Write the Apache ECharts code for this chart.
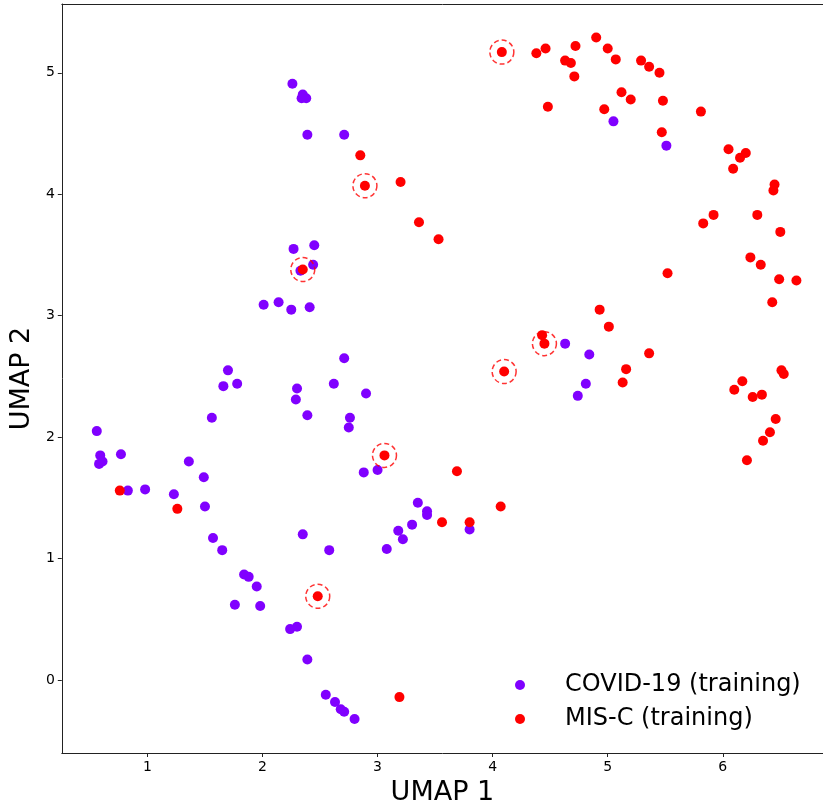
<!DOCTYPE html>
<html><head><meta charset="utf-8">
<script src="https://cdn.jsdelivr.net/npm/echarts@6/dist/echarts.min.js"></script>
<style>html,body{margin:0;padding:0;background:#fff}#c{width:823px;height:811px}</style>
</head><body><div id="c"></div>
<script>
const covidPoints = [
  [2.26,4.91],[2.35,4.82],[2.34,4.79],[2.38,4.79],[2.39,4.49],[2.71,4.49],
  [2.27,3.55],[2.45,3.58],[2.44,3.42],[2.33,3.37],
  [2.01,3.09],[2.14,3.11],[2.25,3.05],[2.41,3.07],
  [1.70,2.55],[1.66,2.42],[1.78,2.44],[1.56,2.16],
  [2.30,2.40],[2.29,2.31],[2.39,2.18],[2.62,2.44],[2.71,2.65],[2.90,2.36],[2.76,2.16],[2.75,2.08],
  [0.56,2.05],[0.59,1.85],[0.61,1.80],[0.58,1.78],[0.77,1.86],[0.83,1.56],[0.98,1.57],
  [1.36,1.80],[1.49,1.67],[1.23,1.53],[1.50,1.43],[1.57,1.17],[1.65,1.07],
  [1.84,0.87],[1.88,0.85],[1.95,0.77],[1.76,0.62],[1.98,0.61],
  [2.35,1.20],[2.58,1.07],[2.24,0.42],[2.30,0.44],[2.39,0.17],
  [2.55,-0.12],[2.63,-0.18],[2.68,-0.24],[2.71,-0.26],[2.80,-0.32],
  [2.88,1.71],[3.00,1.73],
  [3.08,1.08],[3.18,1.23],[3.22,1.16],[3.30,1.28],[3.35,1.46],[3.43,1.39],[3.43,1.36],[3.80,1.24],
  [4.63,2.77],[4.84,2.68],[4.81,2.44],[4.74,2.34],
  [5.05,4.60],[5.51,4.40]
];
const miscPoints = [
  [4.08,5.17],[4.38,5.16],[4.46,5.20],[4.72,5.22],[4.90,5.29],[5.00,5.20],[5.07,5.11],
  [4.63,5.10],[4.68,5.08],[4.71,4.97],[4.48,4.72],[5.29,5.10],[5.36,5.05],[5.45,5.00],
  [5.12,4.84],[5.20,4.78],[5.48,4.77],[4.97,4.70],[5.47,4.51],[5.81,4.68],
  [6.05,4.37],[6.15,4.30],[6.20,4.34],[6.09,4.21],[6.45,4.08],[6.44,4.03],
  [6.30,3.83],[5.92,3.83],[5.83,3.76],[6.50,3.69],[6.24,3.48],[6.33,3.42],
  [6.49,3.30],[6.64,3.29],[6.43,3.11],[5.52,3.35],
  [4.93,3.05],[5.01,2.91],[5.36,2.69],[5.16,2.56],[5.13,2.45],
  [6.51,2.55],[6.53,2.52],[6.17,2.46],[6.10,2.39],[6.26,2.33],[6.34,2.35],
  [6.46,2.15],[6.41,2.04],[6.35,1.97],[6.21,1.81],
  [2.85,4.32],[2.89,4.07],[3.20,4.10],[3.36,3.77],[3.53,3.63],[2.35,3.38],
  [4.43,2.84],[4.45,2.77],[4.10,2.54],[3.06,1.85],[3.69,1.72],
  [4.07,1.43],[3.56,1.30],[3.80,1.30],[3.19,-0.14],[2.48,0.69],
  [0.76,1.56],[1.26,1.41]
];
const highlighted = [[4.08,5.17],[2.89,4.07],[2.35,3.38],[4.45,2.77],[4.10,2.54],[3.06,1.85],[2.48,0.69]];
const xTicks = [1,2,3,4,5,6];
const yTicks = [0,1,2,3,4,5];
const seriesNames = ['COVID-19 (training)','MIS-C (training)'];

const chart = echarts.init(document.getElementById('c'), null, {renderer:'canvas'});
const font = 'DejaVu Sans';
const X_MIN = 0.256, X_MAX = 6.871;
chart.setOption({
  animation:false,
  backgroundColor:'#fff',
  grid:{left:61, top:4, right:0, bottom:57.5, show:false, containLabel:false},
  xAxis:[{type:'value', min:X_MIN, max:X_MAX, position:'bottom',
    name:'UMAP 1', nameLocation:'middle', nameGap:26,
    nameTextStyle:{fontFamily:font, fontSize:27, color:'#000'},
    splitLine:{show:false},
    axisLine:{show:true, onZero:false, lineStyle:{color:'#222', width:1}},
    axisTick:{show:true, length:4, inside:false, customValues:xTicks, lineStyle:{color:'#222'}},
    axisLabel:{customValues:xTicks, fontFamily:font, fontSize:14, color:'#000', margin:7}
  },{type:'value', min:X_MIN, max:X_MAX, position:'top',
    splitLine:{show:false}, axisTick:{show:false}, axisLabel:{show:false},
    axisLine:{show:true, onZero:false, lineStyle:{color:'#222', width:1}}
  }],
  yAxis:{type:'value', min:-0.60, max:5.566,
    name:'UMAP 2', nameLocation:'middle', nameGap:25, nameRotate:90,
    nameTextStyle:{fontFamily:font, fontSize:27, color:'#000'},
    splitLine:{show:false},
    axisLine:{show:true, onZero:false, lineStyle:{color:'#222', width:1}},
    axisTick:{show:true, length:4, inside:false, customValues:yTicks, lineStyle:{color:'#222'}},
    axisLabel:{customValues:yTicks, fontFamily:font, fontSize:14, color:'#000', margin:7}
  },
  legend:{data:seriesNames, orient:'vertical', left:510, top:666, itemWidth:10, itemHeight:10,
    itemGap:6, icon:'circle',
    textStyle:{fontFamily:font, fontSize:24, color:'#000', lineHeight:28, padding:[0,0,0,35]}
  },
  series:[
    {name:seriesNames[0], type:'scatter', data:covidPoints, symbol:'circle', symbolSize:10,
      itemStyle:{color:'#8000ff', opacity:1}, z:2},
    {name:seriesNames[1], type:'scatter', data:miscPoints, symbol:'circle', symbolSize:10,
      itemStyle:{color:'#ff0000', opacity:1}, z:3},
    {name:'highlight', type:'scatter', data:highlighted, symbol:'circle', symbolSize:24,
      itemStyle:{color:'rgba(0,0,0,0)', borderColor:'#ff0000', borderWidth:1.5, borderType:[5,3]}, z:4,
      silent:true}
  ]
});
</script></body></html>
